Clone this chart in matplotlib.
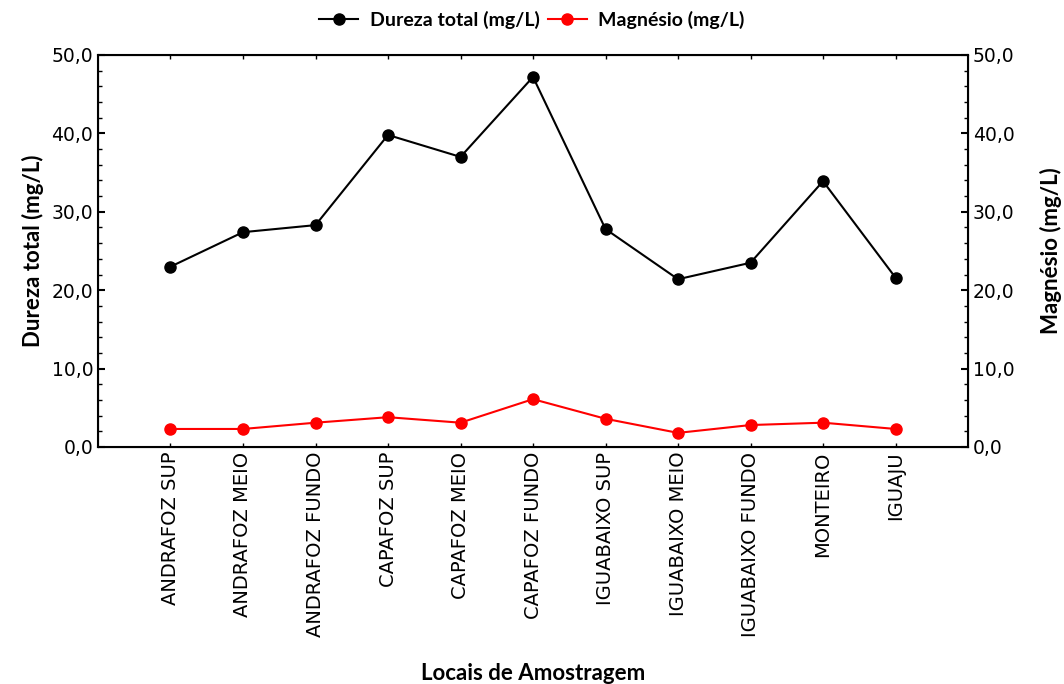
import matplotlib.pyplot as plt
import numpy as np

locais = ['ANDRAFOZ SUP', 'ANDRAFOZ MEIO', 'ANDRAFOZ FUNDO', 'CAPAFOZ SUP', 'CAPAFOZ MEIO',
          'CAPAFOZ FUNDO', 'IGUABAIXO SUP', 'IGUABAIXO MEIO', 'IGUABAIXO FUNDO', 'MONTEIRO', 'IGUAJU']
dureza = [23.0, 27.4, 28.3, 39.8, 37.0, 47.2, 27.8, 21.4, 23.5, 33.9, 21.6]
magnesio = [2.3, 2.3, 3.1, 3.8, 3.1, 6.1, 3.6, 1.8, 2.8, 3.1, 2.3]
yticks = [0, 10, 20, 30, 40, 50]
ytick_labels = [('%.1f' % v).replace('.', ',') for v in yticks]

plt.rcParams['font.family'] = 'DejaVu Sans'
bold_font = 'Lato'

fig = plt.figure(figsize=(10.64, 6.84), dpi=100)
ax = fig.add_axes([0.0921, 0.3465, 0.8177, 0.5731])
x = np.arange(1, len(locais) + 1)

l1, = ax.plot(x, dureza, color='black', marker='o', markersize=8, linewidth=1.5, label='Dureza total (mg/L)')
l2, = ax.plot(x, magnesio, color='#ff0000', marker='o', markersize=8, linewidth=1.5, label='Magnésio (mg/L)')

ax.set_xlim(0, len(locais) + 1)
ax.set_ylim(0, 50)
ax.set_yticks(yticks)
ax.set_yticklabels(ytick_labels, fontsize=13.5)
ax.set_yticks(np.arange(0, 51, 2), minor=True)
ax.set_xticks(x)
ax.set_xticklabels(locais, rotation=90, fontsize=14)
ax.tick_params(axis='both', which='both', direction='in', top=True)
ax.tick_params(axis='y', which='major', length=5, width=1.5)
ax.tick_params(axis='y', which='minor', length=3, width=1)
ax.tick_params(axis='x', length=3, width=1)
for s in ax.spines.values():
    s.set_linewidth(1.5)

ax.set_ylabel('Dureza total (mg/L)', fontsize=16, fontweight='bold', family=bold_font, labelpad=5)
ax.set_xlabel('Locais de Amostragem', fontsize=16, fontweight='bold', family=bold_font)
ax.xaxis.set_label_coords(0.5, -0.55)

ax2 = ax.twinx()
ax2.set_ylim(0, 50)
ax2.set_yticks(yticks)
ax2.set_yticklabels(ytick_labels, fontsize=13.5)
ax2.set_yticks(np.arange(0, 51, 2), minor=True)
ax2.tick_params(axis='y', which='both', direction='in')
ax2.tick_params(axis='y', which='major', length=5, width=1.5)
ax2.tick_params(axis='y', which='minor', length=3, width=1)
ax2.set_ylabel('Magnésio (mg/L)', fontsize=16, fontweight='bold', family=bold_font, labelpad=18)

fig.legend(handles=[l1, l2], loc='upper center', bbox_to_anchor=(0.5, 1.01), ncol=2, frameon=False,
           prop={'family': bold_font, 'weight': 'bold', 'size': 14}, handlelength=2, columnspacing=0.4,
           handletextpad=0.6)

fig.savefig('out.png', dpi=100)
